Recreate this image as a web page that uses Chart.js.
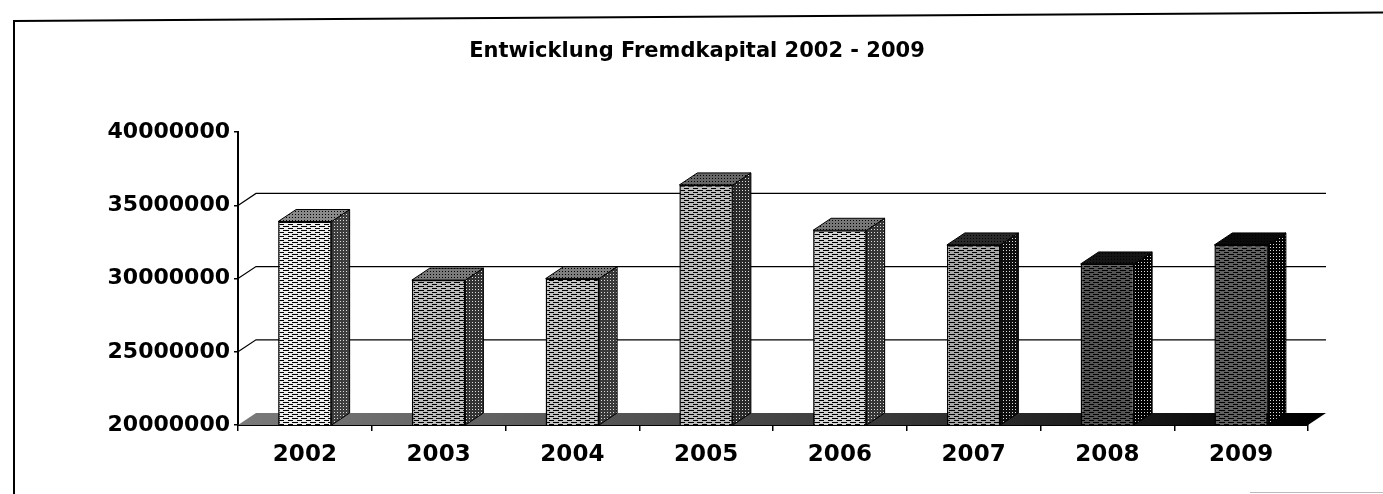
<!DOCTYPE html>
<html>
<head>
<meta charset="utf-8">
<script src="https://cdn.jsdelivr.net/npm/chart.js@4/dist/chart.umd.min.js"></script>
<style>
    body { margin: 0; background: #fff; }
    #wrap { position: relative; width: 1383px; height: 494px; }
    .frameLeft { position: absolute; left: 13px; top: 20px; width: 2px; height: 474px; background: #000; }
    .frameTop { position: absolute; left: 13px; top: 20px; width: 1372px; height: 2px; background: #000;
                transform-origin: 0 0; transform: rotate(-0.36deg); }
    .frameBottom { position: absolute; left: 1250px; top: 492px; width: 133px; height: 1px; background: #bbb; }
</style>
</head>
<body>
<div id="wrap">
    <canvas id="fkChart" width="1383" height="494"></canvas>
    <div class="frameLeft"></div>
    <div class="frameTop"></div>
    <div class="frameBottom"></div>
</div>
<script>
// ===== DATOS =====
const years = ['2002', '2003', '2004', '2005', '2006', '2007', '2008', '2009'];
const fremdkapital = [33900000, 29900000, 30000000, 36400000, 33300000, 32300000, 31000000, 32300000];
const yTicks = [20000000, 25000000, 30000000, 35000000, 40000000];

// ===== ESTILO (tonos de las caras, de claro a oscuro) =====
const frontBg = ['#ececec', '#bdbdbd', '#c4c4c4', '#bcbcbc', '#d4d4d4', '#a8a8a8', '#555555', '#626262'];
const sideBg  = ['#3e3e3e', '#333333', '#3a3a3a', '#2a2a2a', '#363636', '#0e0e0e', '#000000', '#000000'];
const topBg   = ['#8a8a8a', '#7a7a7a', '#7e7e7e', '#666666', '#777777', '#2a2a2a', '#151515', '#0a0a0a'];
const depth = { x: 18, y: -12 };

function makePattern(bg, fg, kind) {
    const c = document.createElement('canvas');
    const pctx = c.getContext('2d');
    if (kind === 'dash') {
        c.width = 9; c.height = 4;
        pctx.fillStyle = bg; pctx.fillRect(0, 0, 9, 4);
        pctx.fillStyle = fg;
        pctx.fillRect(0, 0, 5, 1);
        pctx.fillRect(4, 2, 5, 1);
        pctx.fillRect(0, 2, 1, 1);
    } else {
        c.width = 3; c.height = 3;
        pctx.fillStyle = bg; pctx.fillRect(0, 0, 3, 3);
        pctx.fillStyle = fg;
        pctx.fillRect(1, 1, 1, 1);
    }
    return pctx.createPattern(c, 'repeat');
}

const frontFill = frontBg.map(c => makePattern(c, '#000', 'dash'));
const sideFill = sideBg.map(c => makePattern(c, '#ddd', 'dot'));
const topFill = topBg.map(c => makePattern(c, '#000', 'dot'));

// ===== PLUGIN: pared, suelo y caras 3D =====
const fake3d = {
    id: 'fake3d',
    beforeDatasetsDraw(chart) {
        const ctx = chart.ctx;
        const area = chart.chartArea;
        const ys = chart.scales.y;
        const yb = ys.getPixelForValue(ys.min);
        ctx.save();
        // suelo
        const grad = ctx.createLinearGradient(area.left, 0, area.right, 0);
        grad.addColorStop(0, '#7a7a7a');
        grad.addColorStop(0.6, '#3a3a3a');
        grad.addColorStop(1, '#000');
        ctx.fillStyle = grad;
        ctx.beginPath();
        ctx.moveTo(area.left, yb);
        ctx.lineTo(area.right, yb);
        ctx.lineTo(area.right + depth.x, yb + depth.y);
        ctx.lineTo(area.left + depth.x, yb + depth.y);
        ctx.closePath();
        ctx.fill();
        // líneas de la pared
        ctx.strokeStyle = '#000';
        ctx.lineWidth = 1.2;
        yTicks.forEach(v => {
            if (v <= ys.min || v >= ys.max) return;
            const py = ys.getPixelForValue(v);
            ctx.beginPath();
            ctx.moveTo(area.left, py);
            ctx.lineTo(area.left + depth.x, py + depth.y);
            ctx.lineTo(area.right + depth.x, py + depth.y);
            ctx.stroke();
        });
        ctx.restore();
    },
    afterDatasetsDraw(chart) {
        const ctx = chart.ctx;
        const ys = chart.scales.y;
        const base = ys.getPixelForValue(ys.min);
        const meta = chart.getDatasetMeta(0);
        ctx.save();
        ctx.strokeStyle = '#000';
        ctx.lineWidth = 1;
        meta.data.forEach((bar, i) => {
            const p = bar.getProps(['x', 'y', 'width'], true);
            const l = p.x - p.width / 2, r = p.x + p.width / 2;
            // lado
            ctx.fillStyle = sideFill[i];
            ctx.beginPath();
            ctx.moveTo(r, p.y);
            ctx.lineTo(r + depth.x, p.y + depth.y);
            ctx.lineTo(r + depth.x, base + depth.y);
            ctx.lineTo(r, base);
            ctx.closePath();
            ctx.fill();
            ctx.stroke();
            // tapa
            ctx.fillStyle = topFill[i];
            ctx.beginPath();
            ctx.moveTo(l, p.y);
            ctx.lineTo(r, p.y);
            ctx.lineTo(r + depth.x, p.y + depth.y);
            ctx.lineTo(l + depth.x, p.y + depth.y);
            ctx.closePath();
            ctx.fill();
            ctx.stroke();
        });
        ctx.restore();
    }
};

const ctx = document.getElementById('fkChart');
new Chart(ctx, {
    type: 'bar',
    data: {
        labels: years,
        datasets: [{
            label: 'Fremdkapital',
            data: fremdkapital,
            backgroundColor: frontFill,
            borderColor: '#000',
            borderWidth: 1.5,
            barPercentage: 0.4,
            categoryPercentage: 1
        }]
    },
    options: {
        responsive: false,
        animation: false,
        layout: { padding: { left: 86, right: 75, top: 0, bottom: 9 } },
        plugins: {
            legend: { display: false },
            tooltip: { enabled: false },
            title: {
                display: true,
                text: 'Entwicklung Fremdkapital 2002 - 2009',
                color: '#000',
                font: { family: "'DejaVu Sans', sans-serif", size: 21, weight: 'bold' },
                padding: { top: 39, bottom: 68 }
            }
        },
        scales: {
            y: {
                min: 20000000,
                max: 40000000,
                afterFit: s => { s.width = 152; },
                afterBuildTicks: s => { s.ticks = yTicks.map(v => ({ value: v })); },
                border: { display: true, color: '#000', width: 2 },
                grid: { drawOnChartArea: false, drawTicks: true, tickLength: 4, color: '#000', lineWidth: 1.5 },
                ticks: {
                    color: '#000',
                    padding: 4,
                    font: { family: "'DejaVu Sans', sans-serif", size: 22, weight: 'bold' },
                    callback: v => String(v)
                }
            },
            x: {
                afterFit: s => { s.height = 60; },
                border: { display: true, color: '#000', width: 2 },
                grid: { offset: true, drawOnChartArea: false, drawTicks: true, tickLength: 6, color: '#000', lineWidth: 1.5 },
                ticks: {
                    color: '#000',
                    padding: 10,
                    font: { family: "'DejaVu Sans', sans-serif", size: 23, weight: 'bold' }
                }
            }
        }
    },
    plugins: [fake3d]
});
</script>
</body>
</html>
